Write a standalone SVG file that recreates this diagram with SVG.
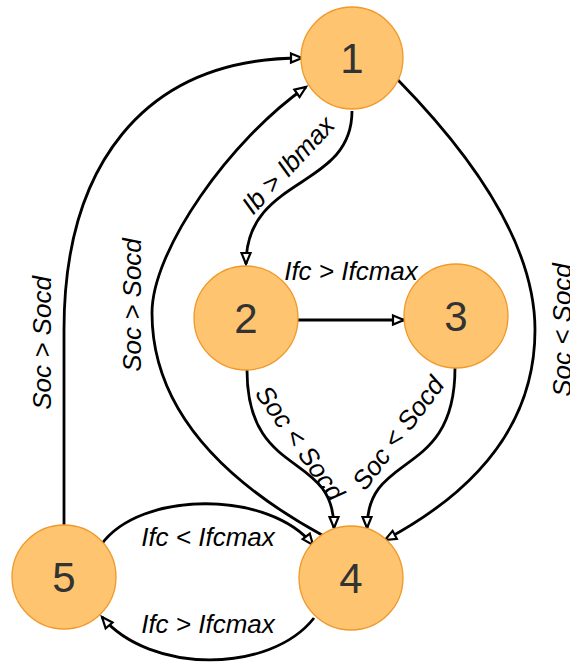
<svg xmlns="http://www.w3.org/2000/svg" width="570" height="664" viewBox="0 0 570 664">
<style>
.node{fill:#FFC470;stroke:#F0992A;stroke-width:1.3}
.num{font-family:"Liberation Sans",Arial,sans-serif;font-size:42px;fill:#333333;text-anchor:middle}
.edge{fill:none;stroke:#000;stroke-width:2.8;marker-end:url(#arr)}
.lbl{font-family:"Liberation Sans",Arial,sans-serif;font-style:italic;font-size:26px;fill:#000;text-anchor:middle}
</style>
<defs>
<marker id="arr" markerUnits="userSpaceOnUse" markerWidth="16" markerHeight="14" refX="12" refY="5.5" orient="auto" overflow="visible">
<path d="M1,1 L12,5.5 L1,10 Z" fill="#fff" stroke="#000" stroke-width="2.2" stroke-linejoin="miter"/>
</marker>
</defs>
<rect width="570" height="664" fill="#fff"/>
<g id="connectors">
<path class="edge" d="M352,111 C352,190 246,175 246,264"/>
<path class="edge" d="M298,320 L404,320"/>
<path class="edge" d="M247,370 C247,480 334,450 334,528"/>
<path class="edge" d="M455,368 C455,480 367,450 367,528"/>
<path class="edge" d="M398,80 Q535,220 535,330 Q535,460 385,540"/>
<path class="edge" d="M322,535 C240,490 152,420 152,313 C152,250 230,140 306,87"/>
<path class="edge" d="M64,525 L64,330 C64,170 140,58 302,58"/>
<path class="edge" d="M101,545 C140,490 270,490 313,545"/>
<path class="edge" d="M314,618 C270,674 150,674 102,617"/>
</g>
<g id="edge-labels">
<text class="lbl" x="288" y="165" dy="9" transform="rotate(-47 288 165)">Ib &gt; Ibmax</text>
<text class="lbl" x="351" y="271" dy="9">Ifc &gt; Ifcmax</text>
<text class="lbl" x="300" y="443" dy="9" transform="rotate(55 300 443)">Soc &lt; Socd</text>
<text class="lbl" x="398" y="433" dy="9" transform="rotate(-53 398 433)">Soc &lt; Socd</text>
<text class="lbl" x="562" y="330" dy="9" transform="rotate(-90 562 330)">Soc &lt; Socd</text>
<text class="lbl" x="132" y="305" dy="9" transform="rotate(-90 132 305)">Soc &gt; Socd</text>
<text class="lbl" x="42" y="343" dy="9" transform="rotate(-90 42 343)">Soc &gt; Socd</text>
<text class="lbl" x="208" y="537" dy="9">Ifc &lt; Ifcmax</text>
<text class="lbl" x="208" y="624" dy="9">Ifc &gt; Ifcmax</text>
</g>
<g id="node1"><circle class="node" cx="352" cy="58" r="51"/><text class="num" x="352" y="73">1</text></g>
<g id="node2"><circle class="node" cx="246" cy="318" r="52"/><text class="num" x="246" y="333">2</text></g>
<g id="node3"><circle class="node" cx="456" cy="316" r="52"/><text class="num" x="456" y="331">3</text></g>
<g id="node4"><circle class="node" cx="351" cy="578" r="52"/><text class="num" x="351" y="593">4</text></g>
<g id="node5"><circle class="node" cx="64" cy="577" r="52"/><text class="num" x="64" y="592">5</text></g>
</svg>
